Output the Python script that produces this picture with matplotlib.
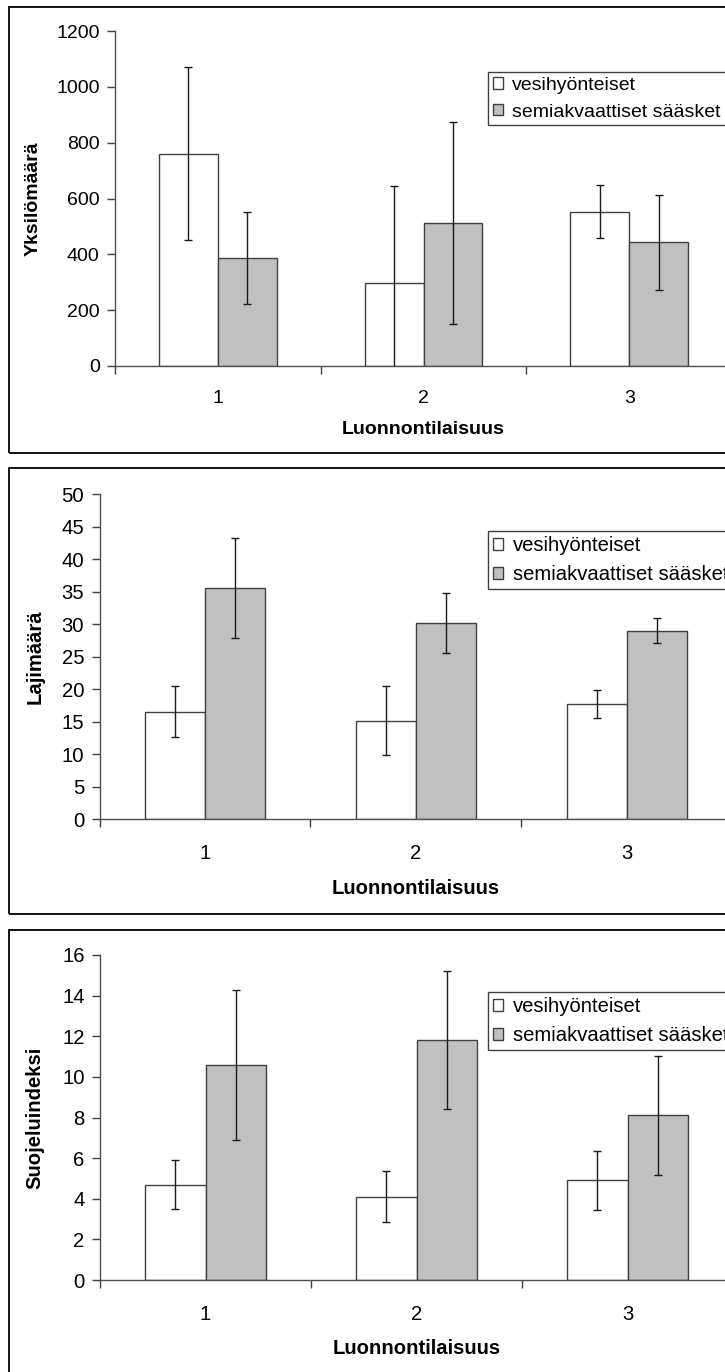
import matplotlib
matplotlib.use("Agg")
import matplotlib.pyplot as plt
from matplotlib.patches import Rectangle
import numpy as np

plt.rcParams['font.family'] = ['Liberation Sans', 'DejaVu Sans']

# Luonnontilaisuusluokat ja sarjat
luokat = ['1', '2', '3']
sarjat = ['vesihyönteiset', 'semiakvaattiset sääsket']

# Yksilömäärä (keskiarvo ja keskihajonta)
yksilot_vesi = [760, 297, 553]
yksilot_vesi_sd = [310, 347, 95]
yksilot_saask = [387, 512, 443]
yksilot_saask_sd = [166, 361, 170]

# Lajimäärä
lajit_vesi = [16.5, 15.1, 17.7]
lajit_vesi_sd = [3.9, 5.3, 2.1]
lajit_saask = [35.5, 30.2, 29.0]
lajit_saask_sd = [7.7, 4.6, 1.9]

# Suojeluindeksi
suojelu_vesi = [4.7, 4.1, 4.9]
suojelu_vesi_sd = [1.2, 1.25, 1.45]
suojelu_saask = [10.6, 11.8, 8.1]
suojelu_saask_sd = [3.7, 3.4, 2.95]

W, H = 725, 1372
fig = plt.figure(figsize=(W / 100, H / 100), dpi=100)


def px_axes(left, right, top, bottom):
    # axes rectangle given in pixels from the top-left corner
    return fig.add_axes([left / W, 1 - bottom / H, (right - left) / W, (bottom - top) / H])


def frame(top, bottom):
    r = Rectangle((9 / W, 1 - bottom / H), 740 / W, (bottom - top) / H,
                  transform=fig.transFigure, fill=False, edgecolor='black',
                  linewidth=1.3, clip_on=False)
    fig.patches.append(r)


def panel(box, vesi, vesi_sd, saask, saask_sd, ymax, ystep, ylabel,
          legend_top, ylab_x, xlab_y, tickpad, fs):
    ax = px_axes(*box)
    x = np.arange(1, len(luokat) + 1)
    w = 1 / 3.5
    ax.bar(x - w / 2, vesi, w, color='white', edgecolor='#404040', linewidth=1,
           label=sarjat[0], zorder=2)
    ax.bar(x + w / 2, saask, w, color='#c0c0c0', edgecolor='#404040', linewidth=1,
           label=sarjat[1], zorder=2)
    ax.errorbar(x - w / 2, vesi, yerr=vesi_sd, fmt='none', ecolor='#1a1a1a',
                elinewidth=1, capsize=3, capthick=1, zorder=3)
    ax.errorbar(x + w / 2, saask, yerr=saask_sd, fmt='none', ecolor='#1a1a1a',
                elinewidth=1, capsize=3, capthick=1, zorder=3)

    ax.set_xlim(0.5, len(luokat) + 0.5)
    ax.set_ylim(0, ymax)
    ax.set_yticks(np.arange(0, ymax + ystep / 2, ystep))
    ax.set_xticks(np.arange(0.5, len(luokat) + 1, 1))
    ax.set_xticklabels([])
    ax.set_xticks(x, minor=True)
    ax.set_xticklabels(luokat, minor=True)
    ax.tick_params(axis='x', which='minor', length=0, pad=tickpad, labelsize=fs)
    ax.tick_params(axis='x', which='major', length=6, width=1, color='#404040')
    ax.tick_params(axis='y', length=6, width=1, color='#404040', labelsize=fs, pad=5)

    for s in ['top', 'right']:
        ax.spines[s].set_visible(False)
    for s in ['left', 'bottom']:
        ax.spines[s].set_color('#505050')
        ax.spines[s].set_linewidth(1)

    ax.set_ylabel(ylabel, fontsize=fs, fontweight='bold', va='center')
    ax.yaxis.set_label_coords(ylab_x / W, 1 - (box[2] + box[3]) / 2 / H,
                              transform=fig.transFigure)
    ax.set_xlabel('Luonnontilaisuus', fontsize=fs, fontweight='bold', va='center')
    ax.xaxis.set_label_coords((box[0] + box[1]) / 2 / W, 1 - xlab_y / H,
                              transform=fig.transFigure)

    leg = ax.legend(loc='upper left', bbox_to_anchor=(488 / W, 1 - legend_top / H),
                    bbox_transform=fig.transFigure, borderaxespad=0, fontsize=fs,
                    fancybox=False, framealpha=1, edgecolor='#404040',
                    handlelength=0.5, handleheight=0.5, handletextpad=0.5,
                    borderpad=0.25, labelspacing=0.5)
    leg.get_frame().set_linewidth(1)
    return ax


frame(7, 453)
frame(468, 914)
frame(930, 1376)

panel((115, 732, 31, 366), yksilot_vesi, yksilot_vesi_sd, yksilot_saask, yksilot_saask_sd,
      1200, 200, 'Yksilömäärä', 72, 33, 430, 17.5, 14)
panel((99.5, 732.5, 494, 819), lajit_vesi, lajit_vesi_sd, lajit_saask, lajit_saask_sd,
      50, 5, 'Lajimäärä', 531, 35, 888, 18, 14.6)
panel((100, 733, 955, 1280), suojelu_vesi, suojelu_vesi_sd, suojelu_saask, suojelu_saask_sd,
      16, 2, 'Suojeluindeksi', 992, 35, 1348, 18, 14.6)

fig.savefig('out.png', dpi=100)
